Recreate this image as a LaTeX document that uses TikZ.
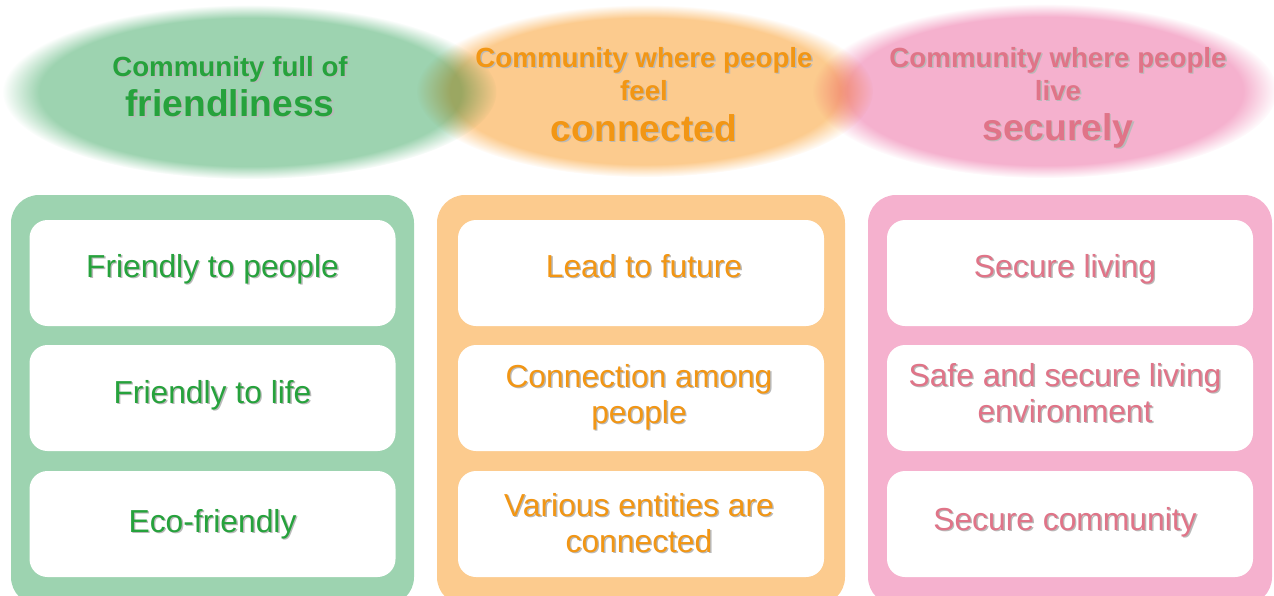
\documentclass[tikz,border=0pt]{standalone}
\usepackage{fontspec}
\setmainfont{Liberation Sans}
\usetikzlibrary{fadings}

\definecolor{greenfill}{RGB}{157,211,176}
\definecolor{orangefill}{RGB}{252,203,142}
\definecolor{pinkfill}{RGB}{245,177,206}
\definecolor{greentext}{RGB}{38,162,60}
\definecolor{orangetext}{RGB}{242,150,20}
\definecolor{pinktext}{RGB}{224,116,136}
\definecolor{shade}{RGB}{185,185,185}

% text with a soft grey drop shadow
\newcommand\shd[1]{\makebox[0pt][l]{\kern1.4pt\raisebox{-1.4pt}{\textcolor{shade}{#1}}}#1}

\tikzset{
  blob/.style={path fading=circle with fuzzy edge 15 percent},
  column/.style={draw=none, rounded corners=28pt, minimum width=#1, minimum height=410pt},
  item/.style={fill=white, draw=none, rounded corners=18pt, minimum width=366pt, minimum height=106pt},
  headsmall/.style={anchor=base, font=\bfseries\fontsize{27.7}{32}\selectfont},
  headbig/.style={anchor=base, font=\bfseries\fontsize{37.2}{42}\selectfont},
  itemtext/.style={anchor=base, align=center, font=\fontsize{31.8}{36}\selectfont},
}

\begin{document}
\begin{tikzpicture}[x=1pt, y=-1pt]
\useasboundingbox (0,0) rectangle (1274,595);
\clip (0,0) rectangle (1274,595);

% soft overlapping ellipses
\begin{scope}[blend group=multiply]
  \fill[greenfill, blob] (250,92) ellipse [x radius=247pt, y radius=87pt];
  \fill[orangefill, blob] (645,91) ellipse [x radius=228pt, y radius=86pt];
  \fill[pinkfill, blob] (1045,91) ellipse [x radius=232pt, y radius=87pt];
\end{scope}

% headings
\node[headsmall, text=greentext] (ga) at (230,76) {\shd{Community full of}};
\node[headbig, text=greentext] (gb) at (230,116) {\shd{friendliness}};
\node[headsmall, text=orangetext] (oa) at (644,67) {\shd{Community where people}};
\node[headsmall, text=orangetext] (ob) at (644,100) {\shd{feel}};
\node[headbig, text=orangetext] (oc) at (644,141) {\shd{connected}};
\node[headsmall, text=pinktext] (pa) at (1058,67) {\shd{Community where people}};
\node[headsmall, text=pinktext] (pb) at (1058,100) {\shd{live}};
\node[headbig, text=pinktext] (pc) at (1058,140) {\shd{securely}};

% columns
\node[column=403pt, fill=greenfill] (gcol) at (212.5,400) {};
\node[column=408pt, fill=orangefill] (ocol) at (641,400) {};
\node[column=404pt, fill=pinkfill] (pcol) at (1070,400) {};

% item boxes
\node[item] (g1) at (212.5,273) {};
\node[item] (g2) at (212.5,398) {};
\node[item] (g3) at (212.5,524) {};
\node[item] (o1) at (641,273) {};
\node[item] (o2) at (641,398) {};
\node[item] (o3) at (641,524) {};
\node[item] (p1) at (1070,273) {};
\node[item] (p2) at (1070,398) {};
\node[item] (p3) at (1070,524) {};

% item texts (base = last line)
\node[itemtext, text=greentext] (g1t) at (212.5,277) {\shd{Friendly to people}};
\node[itemtext, text=greentext] (g2t) at (212.5,403) {\shd{Friendly to life}};
\node[itemtext, text=greentext] (g3t) at (212.5,532) {\shd{Eco-friendly}};
\node[itemtext, text=orangetext] (o1t) at (644,277) {\shd{Lead to future}};
\node[itemtext, text=orangetext] (o2t) at (639,423) {\shd{Connection among}\\\shd{people}};
\node[itemtext, text=orangetext] (o3t) at (639,552) {\shd{Various entities are}\\\shd{connected}};
\node[itemtext, text=pinktext] (p1t) at (1065,277) {\shd{Secure living}};
\node[itemtext, text=pinktext] (p2t) at (1065,422) {\shd{Safe and secure living}\\\shd{environment}};
\node[itemtext, text=pinktext] (p3t) at (1065,530) {\shd{Secure community}};
\end{tikzpicture}
\end{document}
